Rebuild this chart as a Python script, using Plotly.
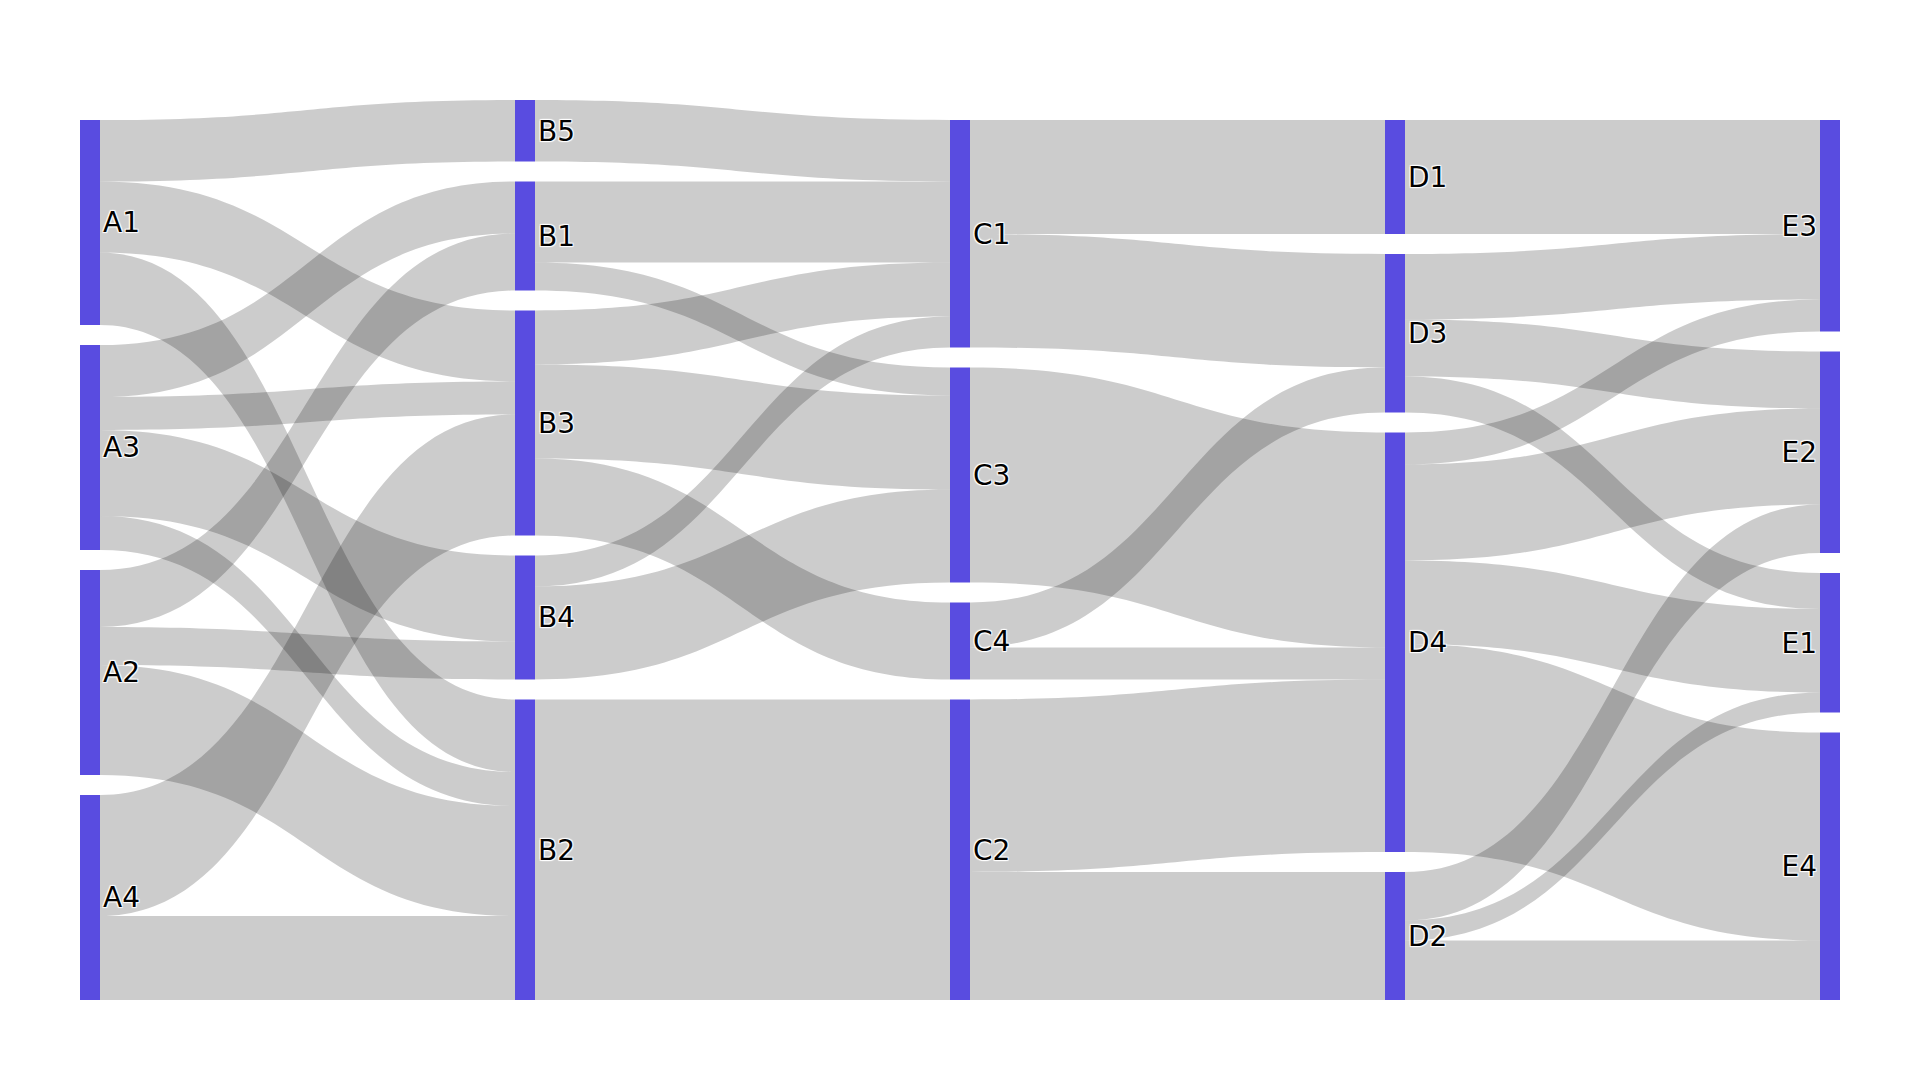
import plotly.graph_objects as go

labels = ["A1", "A2", "A3", "A4",
          "B1", "B2", "B3", "B4", "B5",
          "C1", "C2", "C3", "C4",
          "D1", "D2", "D3", "D4",
          "E1", "E2", "E3", "E4"]

link_source = ["A1", "A1", "A1",
               "A3", "A3", "A3", "A3",
               "A2", "A2", "A2",
               "A4", "A4",
               "B5",
               "B1", "B1",
               "B3", "B3", "B3",
               "B4", "B4",
               "B2",
               "C1", "C1",
               "C3",
               "C4", "C4",
               "C2", "C2",
               "D1",
               "D3", "D3", "D3",
               "D4", "D4", "D4", "D4",
               "D2", "D2", "D2"]
link_target = ["B5", "B3", "B2",
               "B1", "B3", "B4", "B2",
               "B1", "B4", "B2",
               "B3", "B2",
               "C1",
               "C1", "C3",
               "C1", "C3", "C4",
               "C1", "C3",
               "C2",
               "D1", "D3",
               "D4",
               "D3", "D4",
               "D4", "D2",
               "E3",
               "E3", "E2", "E1",
               "E3", "E2", "E1", "E4",
               "E2", "E1", "E4"]
link_value = [61.5, 71, 72.5,
              52, 33, 86, 34,
              57, 38, 110,
              121, 84,
              61.5,
              81, 28,
              54, 94, 77,
              31, 93,
              300.5,
              114, 113.5,
              215,
              45, 32,
              172.5, 128,
              114,
              65.5, 57, 36,
              32, 96, 83.5, 208,
              48.5, 20, 59.5]

idx = {l: i for i, l in enumerate(labels)}

fig = go.Figure(go.Sankey(
    node=dict(
        label=labels,
        color="#594CE0",
        thickness=20,
        pad=20,
        line=dict(width=0),
    ),
    link=dict(
        source=[idx[s] for s in link_source],
        target=[idx[t] for t in link_target],
        value=link_value,
    ),
))

fig.update_layout(
    width=1904, height=1064,
    font=dict(family="Verdana, DejaVu Sans", size=28, color="black"),
    paper_bgcolor="white",
    margin=dict(l=72, r=72, t=92, b=72),
)

fig.write_html("out.html")
